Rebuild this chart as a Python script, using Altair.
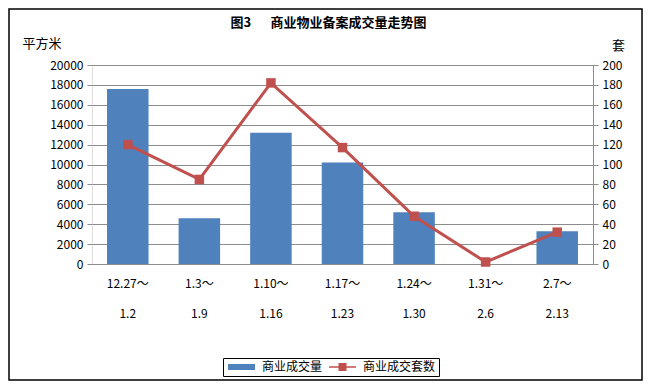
import altair as alt
import pandas as pd

periods = ["12.27～\n1.2", "1.3～\n1.9", "1.10～\n1.16", "1.17～\n1.23", "1.24～\n1.30", "1.31～\n2.6", "2.7～\n2.13"]
area = [17600, 4600, 13200, 10200, 5200, 0, 3300]
units = [120, 85, 182, 117, 48, 2, 32]
series_names = ["商业成交量", "商业成交套数"]

FONT = "Noto Sans CJK SC"
BLUE = "#4F81BD"
RED = "#C0504D"
GRID = "#8c8c8c"

df = pd.DataFrame({"period": periods, "area": area, "units": units,
                   "series": [series_names[0]] * len(periods)})
legend_df = pd.DataFrame({"series": series_names})
frame_df = pd.DataFrame({"k": [0]})

x_enc = alt.X("period:N", sort=periods, title=None,
              scale=alt.Scale(paddingInner=0.42, paddingOuter=0.21),
              axis=alt.Axis(labelExpr="split(datum.label, '\\n')", labelAngle=0,
                            labelFont=FONT, labelFontSize=12, labelColor="black",
                            labelLineHeight=30, labelPadding=14, ticks=False,
                            domain=True, domainColor=GRID, grid=False))

color_scale = alt.Scale(domain=series_names, range=[BLUE, RED])
# symbol unit = 4px (symbolSize 64 -> 8px box); symbols drawn wider to the right
shape_scale = alt.Scale(domain=series_names,
                        range=["M-1,-0.75H5.75V0.75H-1Z",
                               "M-1,-0.2H5.75V0.2H-1Z M1.375,-1H3.375V1H1.375Z"])
legend = alt.Legend(title=None, orient="none", legendX=131, legendY=293,
                    direction="horizontal", strokeColor="black", padding=3,
                    symbolSize=64, symbolStrokeWidth=0, labelFont=FONT,
                    labelFontSize=12, labelColor="black", columnPadding=4,
                    labelOffset=24)

bars = alt.Chart(df).mark_bar(color=BLUE).encode(
    x=x_enc,
    y=alt.Y("area:Q", scale=alt.Scale(domain=[0, 20000]),
            axis=alt.Axis(title="平方米", titleAngle=0, titleX=-70, titleY=-22,
                          titleAlign="left", titleBaseline="middle",
                          titleFont=FONT, titleFontSize=13, titleFontWeight="normal",
                          titleColor="black",
                          values=list(range(0, 20001, 2000)), format="d",
                          labelFont=FONT, labelFontSize=12, labelColor="black",
                          labelPadding=4, tickSize=5, tickColor=GRID,
                          domain=False, grid=True, gridColor=GRID)),
    color=alt.Color("series:N", scale=color_scale, legend=legend),
)

y2 = alt.Y("units:Q", scale=alt.Scale(domain=[0, 200]),
           axis=alt.Axis(title="套", titleAngle=0, titleX=25, titleY=-20,
                         titleAlign="center", titleBaseline="middle",
                         titleFont=FONT, titleFontSize=13, titleFontWeight="normal",
                         titleColor="black", orient="right",
                         values=list(range(0, 201, 20)),
                         labelFont=FONT, labelFontSize=12, labelColor="black",
                         labelPadding=4, tickSize=5, tickColor=GRID,
                         domain=True, domainColor=GRID, grid=False))

line = alt.Chart(df).mark_line(color=RED, strokeWidth=3).encode(x=x_enc, y=y2)
pts = alt.Chart(df).mark_point(shape="square", filled=True, color=RED, opacity=1,
                               size=90).encode(x=x_enc, y=y2)

dummy = alt.Chart(legend_df).mark_point(filled=True, opacity=1).transform_filter(
    "false").encode(
    color=alt.Color("series:N", scale=color_scale, legend=legend),
    shape=alt.Shape("series:N", scale=shape_scale, legend=legend),
)

frame = alt.Chart(frame_df).mark_rect(fillOpacity=0, stroke="black", strokeWidth=1.5).encode(
    x=alt.value(-83), x2=alt.value(550), y=alt.value(-56), y2=alt.value(315))

right = alt.layer(line, pts).resolve_scale(y="shared")

chart = alt.layer(bars, right, dummy, frame).resolve_scale(y="independent").properties(
    width=501, height=199,
    autosize=alt.AutoSizeParams(type="none"),
    padding={"left": 84, "top": 57, "right": 51, "bottom": 117},
    title=alt.TitleParams("图3\u3000\u2002商业物业备案成交量走势图", anchor="middle",
                          font=FONT, fontSize=13, fontWeight="bold", color="black",
                          dx=-14, dy=26, offset=4),
).configure_view(stroke=None).configure(background="white")

chart.save("out.html", embed_options={"renderer": "svg", "actions": False})
